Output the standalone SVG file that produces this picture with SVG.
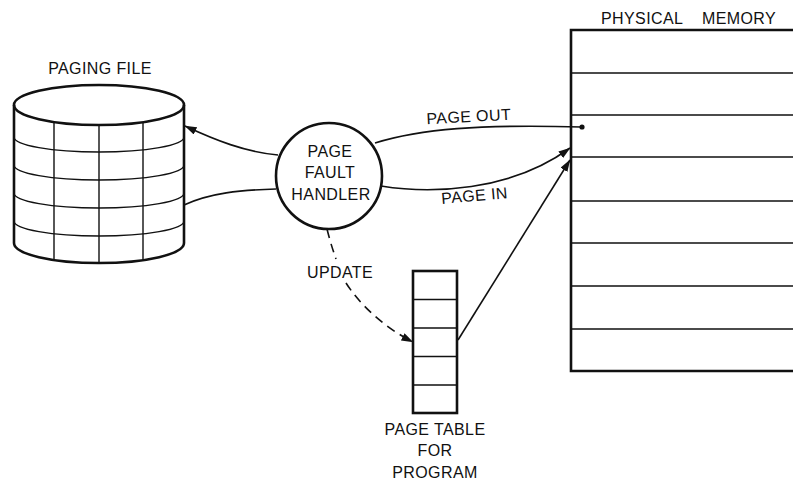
<svg xmlns="http://www.w3.org/2000/svg" width="793" height="483" viewBox="0 0 793 483">
<defs>
<style>
text{font-family:"Liberation Sans",Arial,sans-serif;font-size:16px;fill:#111;letter-spacing:0.4px}
.c{text-anchor:middle}
.thick{fill:none;stroke:#111;stroke-width:2.6}
.thin{fill:none;stroke:#111;stroke-width:1.4}
.conn{fill:none;stroke:#111;stroke-width:1.6}
.dash{fill:none;stroke:#111;stroke-width:1.6;stroke-dasharray:9 6}
</style>
<marker id="ah" viewBox="0 0 12 8" refX="11.5" refY="4" markerWidth="12" markerHeight="8" markerUnits="userSpaceOnUse" orient="auto">
<path d="M0,0 L12,4 L0,8 z" fill="#111"/>
</marker>
</defs>
<rect width="793" height="483" fill="#fff"/>

<g id="paging-file">
<text class="c" x="100" y="74">PAGING FILE</text>
<path class="thick" d="M14,105 L14,243 A85,20 0 0 0 184,243 L184,105" fill="#fff"/>
<ellipse class="thick" cx="99" cy="105" rx="85" ry="20" fill="#fff"/>
<path class="thin" d="M14,137 A85,15 0 0 0 184,137 M14,165 A85,15 0 0 0 184,165 M14,193 A85,15 0 0 0 184,193 M14,221 A85,15 0 0 0 184,221"/>
<path class="thin" d="M54,122 L54,260 M99,125 L99,263 M143,122 L143,260"/>
</g>

<g id="page-fault-handler">
<circle class="thick" cx="329" cy="176" r="53" fill="#fff"/>
<text class="c" x="330" y="157">PAGE</text>
<text class="c" x="330" y="178">FAULT</text>
<text class="c" x="331" y="200">HANDLER</text>
</g>

<g id="page-table">
<rect class="thick" x="413" y="271" width="44" height="142" fill="#fff"/>
<path class="thin" d="M413,299.5 H457 M413,328 H457 M413,356.5 H457 M413,385 H457"/>
<text class="c" x="435" y="435">PAGE TABLE</text>
<text class="c" x="435" y="456">FOR</text>
<text class="c" x="435" y="478">PROGRAM</text>
</g>

<g id="physical-memory">
<text x="601" y="24">PHYSICAL</text>
<text x="702" y="24">MEMORY</text>
<path class="thick" d="M800,30 H571 V371 H800"/>
<path class="thin" d="M571,73 H793 M571,115 H793 M571,157 H793 M571,201 H793 M571,243 H793 M571,286 H793 M571,329 H793"/>
</g>

<g id="connectors">
<path class="conn" d="M278,155 C245,152 215,140 185,126" marker-end="url(#ah)"/>
<path class="conn" d="M276,189 C240,190 210,193 184,205"/>
<path class="conn" d="M375,143 C420,129 480,124 582,127"/>
<circle cx="582" cy="127" r="2.6" fill="#111"/>
<path class="conn" d="M381,186 C430,194 510,192 570,148" marker-end="url(#ah)"/>
<path class="conn" d="M458,340 L570,160" marker-end="url(#ah)"/>
<path class="dash" d="M327,229 Q331,245 336,259"/>
<path class="dash" d="M346,283 C360,305 385,328 413,342" marker-end="url(#ah)"/>
<text transform="translate(469,122) rotate(-3)" class="c">PAGE OUT</text>
<text transform="translate(475,201) rotate(-5)" class="c">PAGE IN</text>
<text class="c" x="340" y="278">UPDATE</text>
</g>
</svg>
